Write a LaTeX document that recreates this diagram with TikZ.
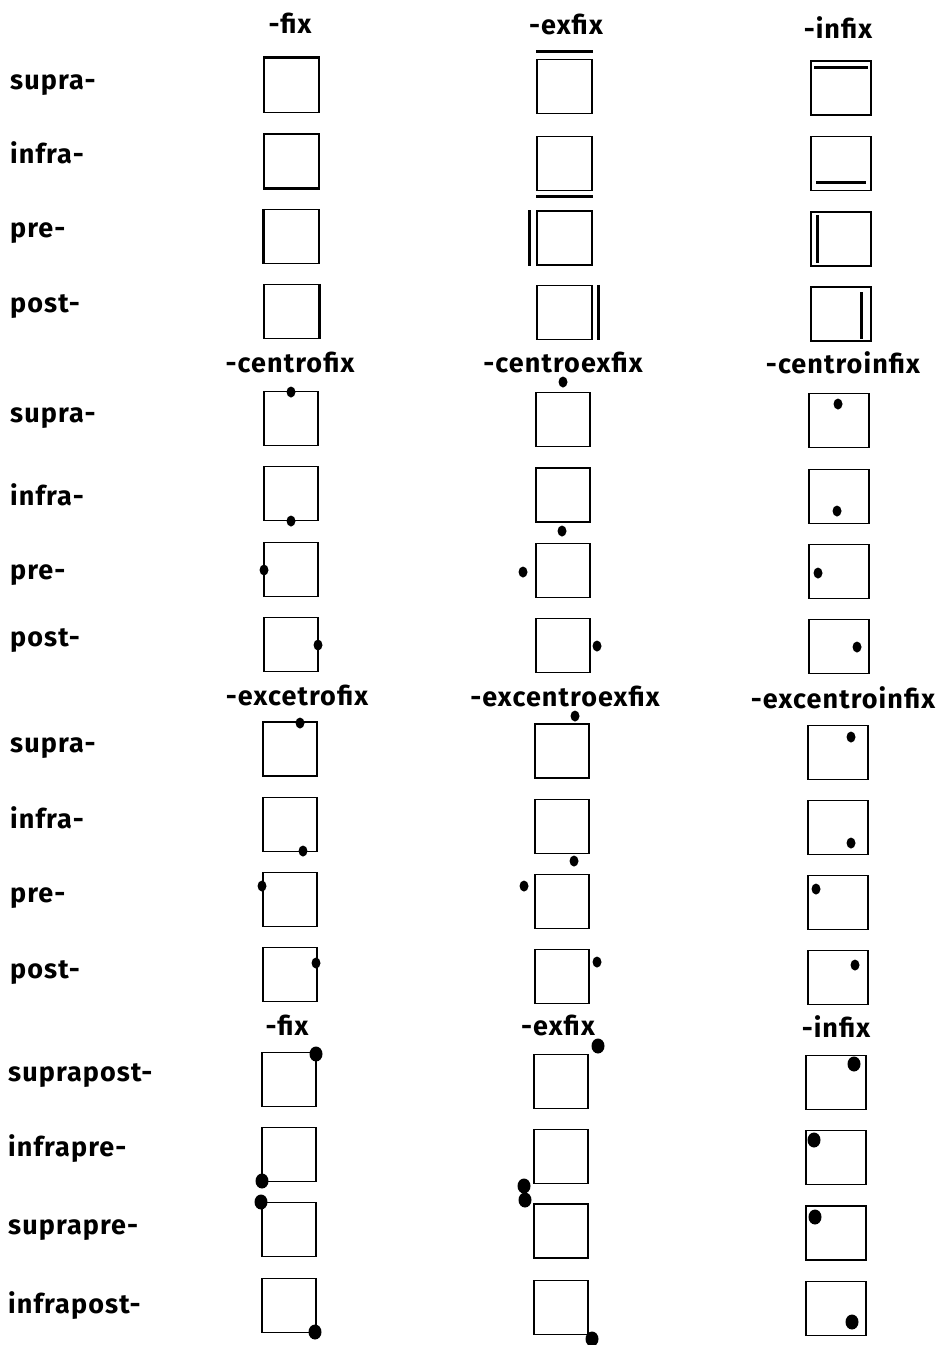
\documentclass[tikz,border=0pt]{standalone}
\usepackage{fontspec}
\setmainfont{Fira Sans}[LetterSpace=4]
\usetikzlibrary{shapes.geometric}
\newcommand{\txtf}{\fontsize{27}{29}\selectfont\bfseries}
\tikzset{
  bx/.style={draw, line width=1.4pt, minimum width=55pt, minimum height=54pt, inner sep=0pt},
  bxw/.style={bx, minimum width=60pt},
  sdot/.style={ellipse, fill, draw=none, inner sep=0pt, minimum width=9pt, minimum height=11pt},
  bdot/.style={ellipse, fill, draw=none, inner sep=0pt, minimum width=13pt, minimum height=15pt},
  mark line/.style={line width=3pt},
  lbl/.style={anchor=base west, inner sep=0pt, font=\txtf},
  hdr/.style={anchor=base, inner sep=0pt, font=\txtf},
}
\begin{document}
\begin{tikzpicture}[x=1pt, y=-1pt]
\useasboundingbox (0,0) rectangle (946,1345);
\fill[white] (0,0) rectangle (946,1345);

% ---------- Section 1 ----------
\node[hdr] (h1a) at (290,33) {-fix};
\node[hdr] (h1b) at (566,34) {-exfix};
\node[hdr] (h1c) at (838,38) {-infix};
\node[lbl] (l1a) at (10,89) {supra-};
\node[lbl] (l1b) at (10,163) {infra-};
\node[lbl] (l1c) at (10,237) {pre-};
\node[lbl] (l1d) at (10,312) {post-};

\node[bx] (a11) at (291.5,85.5) {};
\node[bx] (a12) at (291.5,161) {};
\node[bx] (a13) at (291.5,236.5) {};
\node[bx] (a14) at (291.5,311.5) {};
\draw[mark line] (a11.north west) -- (a11.north east);
\draw[mark line] (a12.south west) -- (a12.south east);
\draw[mark line] (a13.north west) -- (a13.south west);
\draw[mark line] (a14.north east) -- (a14.south east);

\node[bx] (a21) at (564.5,86.5) {};
\node[bx] (a22) at (564.5,163.5) {};
\node[bx] (a23) at (564.5,238) {};
\node[bx] (a24) at (564.5,312.5) {};
\draw[mark line] ([yshift=7pt]a21.north west) -- ([yshift=7pt]a21.north east);
\draw[mark line] ([yshift=-5pt]a22.south west) -- ([yshift=-5pt]a22.south east);
\draw[mark line] ([xshift=-7pt]a23.north west) -- ([xshift=-7pt]a23.south west);
\draw[mark line] ([xshift=6pt]a24.north east) -- ([xshift=6pt]a24.south east);

\node[bxw] (a31) at (841,88) {};
\node[bxw] (a32) at (841,163.5) {};
\node[bxw] (a33) at (841,239) {};
\node[bxw] (a34) at (841,314) {};
\draw[mark line] ([xshift=4pt,yshift=-7pt]a31.north west) -- ([xshift=-4pt,yshift=-7pt]a31.north east);
\draw[mark line] ([xshift=6pt,yshift=9pt]a32.south west) -- ([xshift=-6pt,yshift=9pt]a32.south east);
\draw[mark line] ([xshift=7pt,yshift=-4pt]a33.north west) -- ([xshift=7pt,yshift=4pt]a33.south west);
\draw[mark line] ([xshift=-10pt,yshift=-6pt]a34.north east) -- ([xshift=-10pt,yshift=3pt]a34.south east);

% ---------- Section 2 ----------
\node[hdr] (h2a) at (290,372) {-centrofix};
\node[hdr] (h2b) at (563,372) {-centroexfix};
\node[hdr] (h2c) at (843,373) {-centroinfix};
\node[lbl] (l2a) at (10,422) {supra-};
\node[lbl] (l2b) at (10,505) {infra-};
\node[lbl] (l2c) at (10,579) {pre-};
\node[lbl] (l2d) at (10,646) {post-};

\node[bx, minimum width=54pt] (b11) at (291,418.5) {};
\node[bx, minimum width=54pt] (b12) at (291,493.5) {};
\node[bx, minimum width=54pt] (b13) at (291,569.5) {};
\node[bx, minimum width=54pt] (b14) at (291,644.5) {};
\node[sdot] (d11) at (291,392) {};
\node[sdot] (d12) at (291,521) {};
\node[sdot] (d13) at (264,570) {};
\node[sdot] (d14) at (318,645) {};

\node[bx, minimum width=54pt] (b21) at (563,419.5) {};
\node[bx, minimum width=54pt] (b22) at (563,495) {};
\node[bx, minimum width=54pt] (b23) at (563,570.5) {};
\node[bx, minimum width=54pt] (b24) at (563,645.5) {};
\node[sdot] (d21) at (563,382) {};
\node[sdot] (d22) at (562,531) {};
\node[sdot] (d23) at (523,572) {};
\node[sdot] (d24) at (597,646) {};

\node[bxw] (b31) at (839,420.5) {};
\node[bxw] (b32) at (839,496.5) {};
\node[bxw] (b33) at (839,571.5) {};
\node[bxw] (b34) at (839,646.5) {};
\node[sdot] (d31) at (838,404) {};
\node[sdot] (d32) at (837,511) {};
\node[sdot] (d33) at (818,573) {};
\node[sdot] (d34) at (857,647) {};

% ---------- Section 3 ----------
\node[hdr] (h3a) at (297,705) {-excetrofix};
\node[hdr] (h3b) at (565,706) {-excentroexfix};
\node[hdr] (h3c) at (843,708) {-excentroinfix};
\node[lbl] (l3a) at (10,752) {supra-};
\node[lbl] (l3b) at (10,828) {infra-};
\node[lbl] (l3c) at (10,902) {pre-};
\node[lbl] (l3d) at (10,978) {post-};

\node[bx, minimum width=54pt] (c11) at (290,749) {};
\node[bx, minimum width=54pt] (c12) at (290,824.5) {};
\node[bx, minimum width=54pt] (c13) at (290,899.5) {};
\node[bx, minimum width=54pt] (c14) at (290,974.5) {};
\node[sdot] (e11) at (300,723) {};
\node[sdot] (e12) at (303,851) {};
\node[sdot] (e13) at (262,886) {};
\node[sdot] (e14) at (316,963) {};

\node[bx, minimum width=54pt] (c21) at (562,751) {};
\node[bx, minimum width=54pt] (c22) at (562,826.5) {};
\node[bx, minimum width=54pt] (c23) at (562,901.5) {};
\node[bx, minimum width=54pt] (c24) at (562,976.5) {};
\node[sdot] (e21) at (575,716) {};
\node[sdot] (e22) at (574,861) {};
\node[sdot] (e23) at (524,886) {};
\node[sdot] (e24) at (597,962) {};

\node[bxw] (c31) at (838,752.5) {};
\node[bxw] (c32) at (838,827.5) {};
\node[bxw] (c33) at (838,902.5) {};
\node[bxw] (c34) at (838,977.5) {};
\node[sdot] (e31) at (851,737) {};
\node[sdot] (e32) at (851,843) {};
\node[sdot] (e33) at (816,889) {};
\node[sdot] (e34) at (855,965) {};

% ---------- Section 4 ----------
\node[hdr] (h4a) at (287,1035) {-fix};
\node[hdr] (h4b) at (558,1035) {-exfix};
\node[hdr] (h4c) at (836,1037) {-infix};
\node[lbl] (l4a) at (8,1081) {suprapost-};
\node[lbl] (l4b) at (8,1156) {infrapre-};
\node[lbl] (l4c) at (8,1234) {suprapre-};
\node[lbl] (l4d) at (8,1313) {infrapost-};

\node[bx, minimum width=54pt] (f11) at (289,1079.5) {};
\node[bx, minimum width=54pt] (f12) at (289,1154.5) {};
\node[bx, minimum width=54pt] (f13) at (289,1229.5) {};
\node[bx, minimum width=54pt] (f14) at (289,1305.5) {};
\node[bdot] (g11) at (316,1054) {};
\node[bdot] (g12) at (262,1181) {};
\node[bdot] (g13) at (261,1202) {};
\node[bdot] (g14) at (315,1332) {};

\node[bx, minimum width=54pt] (f21) at (561,1081.5) {};
\node[bx, minimum width=54pt] (f22) at (561,1156.5) {};
\node[bx, minimum width=54pt] (f23) at (561,1231) {};
\node[bx, minimum width=54pt] (f24) at (561,1307.5) {};
\node[bdot] (g21) at (598,1046) {};
\node[bdot] (g22) at (524,1186) {};
\node[bdot] (g23) at (525,1200) {};
\node[bdot] (g24) at (592,1339) {};

\node[bxw] (f31) at (836,1082.5) {};
\node[bxw] (f32) at (836,1157.5) {};
\node[bxw] (f33) at (836,1233) {};
\node[bxw] (f34) at (836,1308.5) {};
\node[bdot] (g31) at (854,1064) {};
\node[bdot] (g32) at (814,1140) {};
\node[bdot] (g33) at (815,1217) {};
\node[bdot] (g34) at (852,1322) {};
\end{tikzpicture}
\end{document}
